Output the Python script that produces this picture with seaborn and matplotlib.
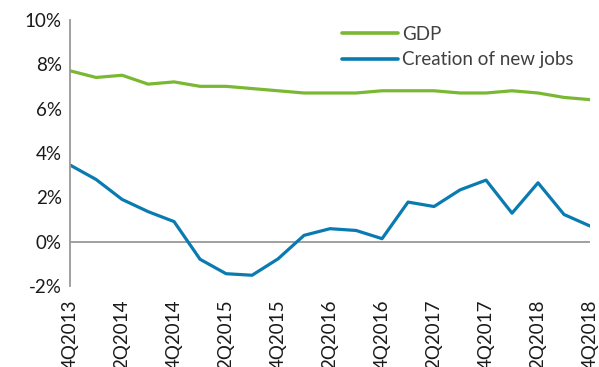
import matplotlib
matplotlib.use("Agg")
import matplotlib.pyplot as plt
import seaborn as sns
import pandas as pd
import numpy as np

quarters = ["4Q2013", "1Q2014", "2Q2014", "3Q2014", "4Q2014", "1Q2015", "2Q2015",
            "3Q2015", "4Q2015", "1Q2016", "2Q2016", "3Q2016", "4Q2016", "1Q2017",
            "2Q2017", "3Q2017", "4Q2017", "1Q2018", "2Q2018", "3Q2018", "4Q2018"]
gdp = [7.7, 7.4, 7.5, 7.1, 7.2, 7.0, 7.0, 6.9, 6.8, 6.7, 6.7, 6.7, 6.8, 6.8,
       6.8, 6.7, 6.7, 6.8, 6.7, 6.5, 6.4]
jobs = [3.45, 2.8, 1.9, 1.35, 0.9, -0.8, -1.45, -1.52, -0.78, 0.28, 0.58, 0.5,
        0.13, 1.78, 1.58, 2.33, 2.77, 1.28, 2.65, 1.22, 0.7]
series_names = ["GDP", "Creation of new jobs"]
colors = ["#7AB833", "#0A7BB0"]

df = pd.DataFrame({
    "idx": list(range(len(quarters))) * 2,
    "value": gdp + jobs,
    "series": [series_names[0]] * len(quarters) + [series_names[1]] * len(quarters),
})

sns.set_theme(style="white")
plt.rcParams["font.family"] = ["Lato", "DejaVu Sans"]
FS = 13.5

fig = plt.figure(figsize=(5.99, 3.67), dpi=100)
ax = fig.add_axes([0.117, 0.221, 0.868, 0.725])
sns.lineplot(data=df, x="idx", y="value", hue="series", palette=colors,
             linewidth=2.3, ax=ax)

ax.set_xlim(0, len(quarters) - 1)
ax.set_ylim(-2, 10)
ax.set_yticks(np.arange(-2, 11, 2))
ax.set_yticklabels([f"{v}%" for v in range(-2, 11, 2)], fontsize=FS, color="#1a1a1a")
ax.set_xticks(range(0, len(quarters), 2))
ax.set_xticklabels(quarters[::2], rotation=90, fontsize=FS, color="#1a1a1a", va="top")
ax.tick_params(axis="both", length=0, pad=6)
ax.tick_params(axis="x", pad=10)
ax.axhline(0, color="#999999", linewidth=1.3, zorder=0)
for s in ["top", "right", "bottom"]:
    ax.spines[s].set_visible(False)
ax.spines["left"].set_color("#999999")
ax.spines["left"].set_linewidth(1.3)
ax.set_xlabel("")
ax.set_ylabel("")

leg = ax.legend(loc="upper right", bbox_to_anchor=(1.0, 1.04), frameon=False,
                fontsize=FS, handlelength=3.0, handletextpad=0.2, labelspacing=0.45)
for t in leg.get_texts():
    t.set_color("#404040")
for l in leg.get_lines():
    l.set_linewidth(2.6)

fig.savefig("out.png", dpi=100)
